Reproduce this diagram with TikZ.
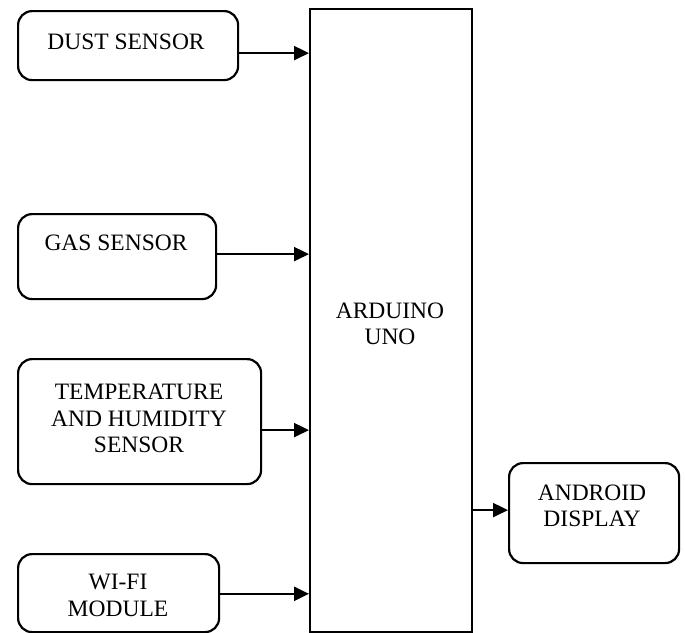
\documentclass[tikz,border=0pt]{standalone}
\usepackage{fontspec}
\setmainfont{Liberation Serif}
\usetikzlibrary{arrows.meta}
\begin{document}
\begin{tikzpicture}[x=1pt,y=-1pt,
 box/.style={draw,line width=2.2pt,rounded corners=14pt,inner sep=0pt,anchor=north west},
 mcu/.style={draw,line width=2.2pt,inner sep=0pt,anchor=north west},
 lbl/.style={font=\fontsize{23.5}{26.5}\selectfont,align=center,inner sep=0pt},
 conn/.style={line width=2.2pt,-{Triangle[length=15pt,width=14pt]}}]
\useasboundingbox (0,0) rectangle (685,632);
% boxes
\node[box,minimum width=220pt,minimum height=69pt] (dust) at (17,10) {};
\node[box,minimum width=198pt,minimum height=85pt] (gas) at (17,213) {};
\node[box,minimum width=243pt,minimum height=125pt] (temp) at (17,358) {};
\node[box,minimum width=201pt,minimum height=78pt] (wifi) at (17,553) {};
\node[mcu,minimum width=162pt,minimum height=623pt] (ard) at (309,8) {};
\node[box,minimum width=170pt,minimum height=100pt] (andr) at (508,462) {};
% labels
\node[lbl] (tdust) at (126,42) {DUST SENSOR};
\node[lbl] (tgas) at (116,243) {GAS SENSOR};
\node[lbl] (ttemp) at (139,418.5) {TEMPERATURE\\AND HUMIDITY\\SENSOR};
\node[lbl] (twifi) at (118,595.5) {WI-FI\\MODULE};
\node[lbl] (tard) at (390,324) {ARDUINO\\UNO};
\node[lbl] (tandr) at (592,506) {ANDROID\\DISPLAY};
% connectors
\path (dust.east) ++(0,7.5) coordinate (c1);
\path (gas.east) ++(0,-2.5) coordinate (c2);
\path (temp.east) ++(0,8.5) coordinate (c3);
\path (wifi.east) ++(0,0.7) coordinate (c4);
\path (andr.west) ++(0,-3) coordinate (c5);
\draw[conn] (c1) -- (c1 -| ard.west);
\draw[conn] (c2) -- (c2 -| ard.west);
\draw[conn] (c3) -- (c3 -| ard.west);
\draw[conn] (c4) -- (c4 -| ard.west);
\draw[conn] (c5 -| ard.east) -- (c5);
\end{tikzpicture}
\end{document}
